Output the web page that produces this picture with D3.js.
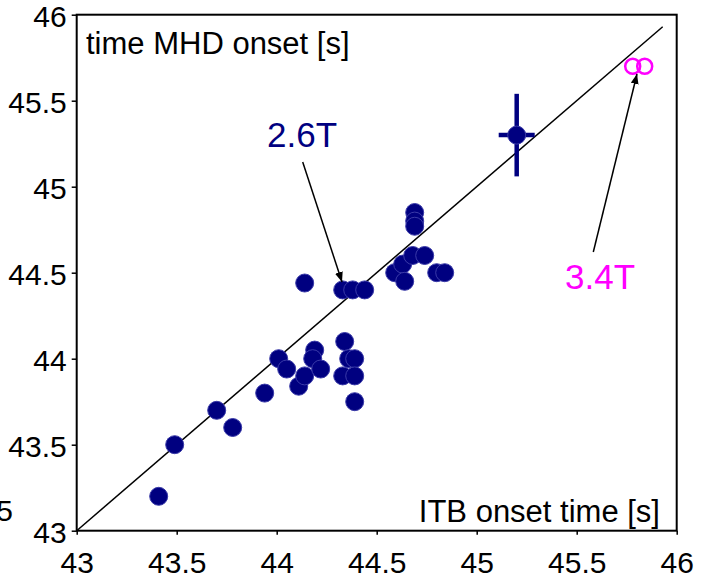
<!DOCTYPE html>
<html>
<head>
<meta charset="utf-8">
<script src="https://cdn.jsdelivr.net/npm/d3@7"></script>
<style>
  body { margin: 0; background: #fff; }
  svg text { font-family: "Liberation Sans", Arial, sans-serif; }
</style>
</head>
<body>
<div id="chart"></div>
<script>
// ── data ──────────────────────────────────────────────────────────────────────
const ticks = [43, 43.5, 44, 44.5, 45, 45.5, 46];

// 2.6T shots: ITB onset time vs MHD onset time
const itb26 = [43.41, 43.49, 43.70, 43.78, 43.94, 44.01, 44.05, 44.11, 44.14, 44.19, 44.18, 44.22,
               44.34, 44.36, 44.39, 44.33, 44.39, 44.39, 44.14, 44.33, 44.38, 44.44,
               44.59, 44.63, 44.64, 44.68, 44.74, 44.80, 44.84, 44.69, 44.69, 44.69, 45.20];
const mhd26 = [43.20, 43.50, 43.70, 43.60, 43.80, 44.00, 43.94, 43.84, 43.90, 44.05, 44.00, 43.94,
               44.10, 44.00, 44.00, 43.90, 43.90, 43.75, 44.44, 44.40, 44.40, 44.40,
               44.50, 44.55, 44.45, 44.60, 44.60, 44.50, 44.50, 44.85, 44.80, 44.77, 45.30];

// error bar on the 45.2 s shot
const errX = [0.09];
const errY = [0.24];

// 3.4T shots
const itb34 = [45.78, 45.84];
const mhd34 = [45.70, 45.70];

// reference line y = x
const diag = [43, 45.93];

// ── layout ────────────────────────────────────────────────────────────────────
const W = 707, H = 581;
const navy = '#000080', magenta = '#ff00ff';

const x = d3.scaleLinear().domain([43, 46]).range([76.7, 676.7]);
const y = d3.scaleLinear().domain([43, 46]).range([530.7, 14.7]);

const svg = d3.select('#chart').append('svg')
  .attr('width', W).attr('height', H);

svg.append('defs').append('marker')
  .attr('id', 'arr')
  .attr('viewBox', '0 0 10 10')
  .attr('refX', 10).attr('refY', 5)
  .attr('markerWidth', 10).attr('markerHeight', 8)
  .attr('markerUnits', 'userSpaceOnUse')
  .attr('orient', 'auto')
  .attr('preserveAspectRatio', 'none')
  .append('path').attr('d', 'M0,0 L10,5 L0,10 Z').attr('fill', '#000');

// stray label clipped from the neighbouring panel
svg.append('text')
  .attr('x', 13).attr('y', 521)
  .attr('text-anchor', 'end')
  .attr('font-size', 30)
  .text('43.5');

// ── axes ──────────────────────────────────────────────────────────────────────
svg.append('g')
  .attr('transform', `translate(0,${y(43)})`)
  .call(d3.axisBottom(x).tickValues(ticks).tickSize(4).tickPadding(17).tickFormat(d => String(d)))
  .call(g => g.select('.domain').remove())
  .call(g => g.selectAll('.tick line').attr('stroke', '#000').attr('stroke-width', 1.5))
  .call(g => g.selectAll('.tick text').attr('font-size', 30).attr('fill', '#000')
    .attr('font-family', '"Liberation Sans", Arial, sans-serif'));

svg.append('g')
  .attr('transform', `translate(${x(43)},0)`)
  .call(d3.axisLeft(y).tickValues(ticks).tickSize(5).tickPadding(5).tickFormat(d => String(d)))
  .call(g => g.select('.domain').remove())
  .call(g => g.selectAll('.tick line').attr('stroke', '#000').attr('stroke-width', 1.5))
  .call(g => g.selectAll('.tick text').attr('font-size', 30).attr('fill', '#000').attr('dy', '0.38em')
    .attr('font-family', '"Liberation Sans", Arial, sans-serif'));

// frame
svg.append('rect')
  .attr('x', x(43)).attr('y', y(46))
  .attr('width', x(46) - x(43)).attr('height', y(43) - y(46))
  .attr('fill', 'none').attr('stroke', '#000').attr('stroke-width', 2);

// ── diagonal ──────────────────────────────────────────────────────────────────
svg.append('line')
  .attr('x1', x(diag[0])).attr('y1', y(diag[0]))
  .attr('x2', x(diag[1])).attr('y2', y(diag[1]))
  .attr('stroke', '#000').attr('stroke-width', 1.5);

// ── 2.6T points ───────────────────────────────────────────────────────────────
const pts26 = itb26.map((v, i) => ({ x: v, y: mhd26[i] }));
const last = pts26[pts26.length - 1];

// error bars
const eb = svg.append('g').attr('stroke', navy).attr('stroke-width', 4.5);
eb.append('line')
  .attr('x1', x(last.x)).attr('x2', x(last.x))
  .attr('y1', y(last.y - errY[0])).attr('y2', y(last.y + errY[0]));
eb.append('line')
  .attr('x1', x(last.x - errX[0])).attr('x2', x(last.x + errX[0]))
  .attr('y1', y(last.y)).attr('y2', y(last.y));

svg.append('g')
  .selectAll('circle')
  .data(pts26)
  .join('circle')
    .attr('cx', d => x(d.x))
    .attr('cy', d => y(d.y))
    .attr('r', 9)
    .attr('fill', navy)
    .attr('stroke', '#3a3aa8')
    .attr('stroke-width', 1);

// ── 3.4T points ───────────────────────────────────────────────────────────────
svg.append('g')
  .selectAll('circle')
  .data(itb34.map((v, i) => ({ x: v, y: mhd34[i] })))
  .join('circle')
    .attr('cx', d => x(d.x))
    .attr('cy', d => y(d.y))
    .attr('r', 7.5)
    .attr('fill', 'none')
    .attr('stroke', magenta)
    .attr('stroke-width', 2.5);

// ── annotations ───────────────────────────────────────────────────────────────
svg.append('text')
  .attr('x', 86).attr('y', 54)
  .attr('font-size', 31)
  .text('time MHD onset [s]');

svg.append('text')
  .attr('x', 660).attr('y', 522)
  .attr('text-anchor', 'end')
  .attr('font-size', 31)
  .text('ITB onset time [s]');

svg.append('text')
  .attr('x', 267).attr('y', 147)
  .attr('font-size', 35)
  .attr('fill', navy)
  .text('2.6T');

svg.append('text')
  .attr('x', 565).attr('y', 289)
  .attr('font-size', 35)
  .attr('fill', magenta)
  .text('3.4T');

svg.append('line')
  .attr('x1', 302.7).attr('y1', 162)
  .attr('x2', 342).attr('y2', 282)
  .attr('stroke', '#000').attr('stroke-width', 1.5)
  .attr('marker-end', 'url(#arr)');

svg.append('line')
  .attr('x1', 593.3).attr('y1', 252)
  .attr('x2', 637).attr('y2', 74)
  .attr('stroke', '#000').attr('stroke-width', 1.5)
  .attr('marker-end', 'url(#arr)');
</script>
</body>
</html>
